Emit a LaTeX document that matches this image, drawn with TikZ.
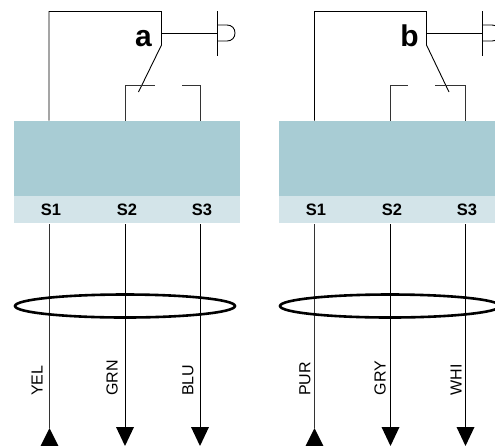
\documentclass[tikz,border=0pt]{standalone}
\usepackage{fontspec}
\setmainfont{Liberation Sans}
\usetikzlibrary{shapes.geometric}
\definecolor{blockdark}{HTML}{A8CCD4}
\definecolor{blocklight}{HTML}{D3E4E9}
\tikzset{
  x=1pt,y=-1pt,
  wire/.style={draw=black,line width=0.9pt,line join=miter},
  thinwire/.style={draw=black!80,line width=0.9pt},
  upper/.style={draw=none,fill=blockdark,minimum width=226pt,minimum height=75pt,inner sep=0pt,anchor=north west},
  lower/.style={draw=none,fill=blocklight,minimum width=226pt,minimum height=27pt,inner sep=0pt,anchor=north west},
  pin/.style={font=\fontsize{16.5}{16.5}\selectfont\bfseries,inner sep=0pt,anchor=center},
  letter/.style={font=\fontsize{30}{30}\selectfont\bfseries,inner sep=0pt,anchor=base},
  colour/.style={font=\fontsize{16}{16}\selectfont,rotate=90,anchor=west,inner sep=0pt},
  loop/.style={draw=black,line width=2.6pt,ellipse,minimum width=220pt,minimum height=23pt,inner sep=0pt,anchor=center},
  headup/.style={fill=black,draw=none},
  headdown/.style={fill=black,draw=none},
}
\newcommand{\downhead}[1]{\fill[headdown] (#1) ++(-9,0) -- ++(18,0) -- ++(-9,19) -- cycle;}
\newcommand{\uphead}[1]{\fill[headup] (#1) ++(-9,18) -- ++(18,0) -- ++(-9,-18) -- cycle;}
\newcommand{\bell}[1]{\draw[wire] (#1,25) -- (#1+10,25) .. controls (#1+15,25) and (#1+18,28.5) .. (#1+18,33) .. controls (#1+18,37.5) and (#1+15,41) .. (#1+10,41) -- (#1,41);}
\begin{document}
\begin{tikzpicture}
\useasboundingbox (0,0) rectangle (495,445);
\clip (0,0) rectangle (495,445);
\fill[white] (0,0) rectangle (495,445);
% ---------- left unit
\node[upper] (bodyA) at (14,121) {};
\node[lower] (stripA) at (14,196) {};
\node[pin] (a1) at (51,210) {S1};
\node[pin] (a2) at (127,210) {S2};
\node[pin] (a3) at (202,210) {S3};
\node[letter] (la) at (143.5,46.5) {a};
\coordinate (a1t) at (49,120.5);
\coordinate (a1c) at (49,11.5);
\coordinate (apivotTop) at (161.5,11.5);
\coordinate (apivot) at (161.5,45);
\coordinate (aarm) at (138.5,92);
\coordinate (a2t) at (125,120.5);
\coordinate (a2c) at (125,85.5);
\coordinate (a2e) at (155,85.5);
\coordinate (a3t) at (200,120.5);
\coordinate (a3c) at (200,85.5);
\coordinate (a3e) at (182,85.5);
\coordinate (astub) at (161.5,33.5);
\coordinate (aplate) at (217,33.5);
\draw[wire] (a1t) -- (a1c) -- (apivotTop) -- (apivot) -- (aarm);
\draw[wire] (astub) -- (aplate);
\draw[wire] (217,11) -- (217,55.5);
\bell{217}
\draw[thinwire] (a2t) -- (a2c) -- (a2e);
\draw[thinwire] (a3t) -- (a3c) -- (a3e);
\coordinate (a1e) at (49.5,428);
\coordinate (a2b) at (125,427);
\coordinate (a3b) at (200,427);
\draw[thinwire] (49.5,224) -- (a1e);
\draw[wire] (125,224) -- (a2b);
\draw[wire] (200,224) -- (a3b);
\node[loop] (ringA) at (125,306) {};
\uphead{a1e}
\downhead{a2b}
\downhead{a3b}
\node[colour] (ya) at (37,396) {YEL};
\node[colour] (ga) at (112,396) {GRN};
\node[colour] (ba) at (188,396) {BLU};
% ---------- right unit
\node[upper] (bodyB) at (279,121) {};
\node[lower] (stripB) at (279,196) {};
\node[pin] (b1) at (316,210) {S1};
\node[pin] (b2) at (392,210) {S2};
\node[pin] (b3) at (467,210) {S3};
\node[letter] (lb) at (409.5,46) {b};
\coordinate (b1t) at (314.5,120.5);
\coordinate (b1c) at (314.5,11.5);
\coordinate (bpivotTop) at (426.5,11.5);
\coordinate (bpivot) at (426.5,45);
\coordinate (barm) at (449,92);
\coordinate (b2t) at (390,120.5);
\coordinate (b2c) at (390,85.5);
\coordinate (b2e) at (407.5,85.5);
\coordinate (b3t) at (465,120.5);
\coordinate (b3c) at (465,85.5);
\coordinate (b3e) at (434.5,85.5);
\coordinate (bstub) at (426.5,33.5);
\coordinate (bplate) at (482,33.5);
\draw[wire] (b1t) -- (b1c) -- (bpivotTop) -- (bpivot) -- (barm);
\draw[wire] (bstub) -- (bplate);
\draw[wire] (482,11) -- (482,55.5);
\bell{482}
\draw[thinwire] (b2t) -- (b2c) -- (b2e);
\draw[thinwire] (b3t) -- (b3c) -- (b3e);
\coordinate (b1e) at (314.5,428);
\coordinate (b2b) at (390.5,427);
\coordinate (b3b) at (465.5,427);
\draw[thinwire] (314.5,224) -- (b1e);
\draw[wire] (390.5,224) -- (b2b);
\draw[wire] (465.5,224) -- (b3b);
\node[loop] (ringB) at (390,306) {};
\uphead{b1e}
\downhead{b2b}
\downhead{b3b}
\node[colour] (pb) at (305,396) {PUR};
\node[colour] (gb) at (380,395.5) {GRY};
\node[colour] (wb) at (456,395.5) {WHI};
\end{tikzpicture}
\end{document}
